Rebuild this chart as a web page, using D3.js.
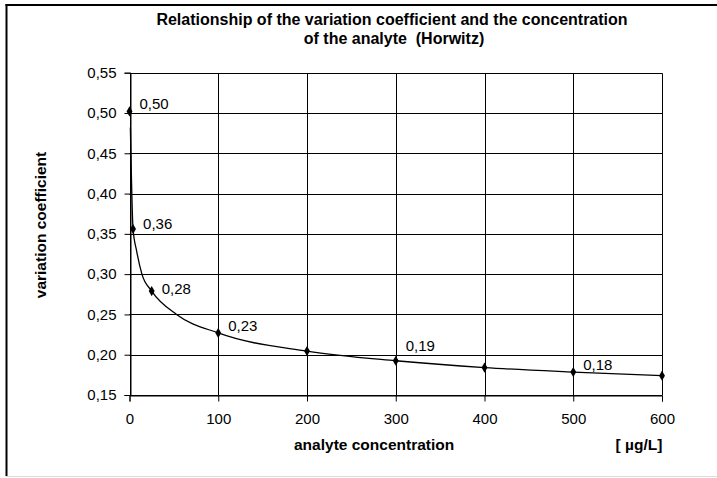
<!DOCTYPE html>
<html lang="en">
<head>
<meta charset="UTF-8">
<title>Horwitz</title>
<script src="https://cdn.jsdelivr.net/npm/d3@7"></script>
<style>
  body { margin: 0; background: #fff; }
  text { font-family: "Liberation Sans", Arial, sans-serif; }
</style>
</head>
<body>
<script>
// marker points
var concentration = [0, 4, 25, 100, 200, 300, 400, 500, 600];
var coefficient   = [0.502, 0.356, 0.279, 0.227, 0.2045, 0.1925, 0.184, 0.1785, 0.174];
var labelText     = ["0,50", "0,36", "0,28", "0,23", "", "0,19", "", "0,18", ""];
// smoothed curve
var curveConc = [1, 4, 8, 14, 25, 53, 100, 200, 300, 400, 500, 600];
var curveCv   = [0.482, 0.356, 0.329, 0.30, 0.279, 0.25, 0.227, 0.2045, 0.1925, 0.184, 0.1785, 0.174];
var xTicks = [0, 100, 200, 300, 400, 500, 600];
var yTicks = [0.15, 0.20, 0.25, 0.30, 0.35, 0.40, 0.45, 0.50, 0.55];

var W = 717, H = 478;
var plotL = 129.5, plotR = 662, plotT = 72.7, plotB = 395;
// per-label vertical nudges (px)
var labelDy = [-2, 0, 3, -2, 0, -10, 0, -2, 0];

var svg = d3.select("body").append("svg")
    .attr("width", W).attr("height", H);

// outer frame (cropped: left and top dark, bottom light)
svg.append("line").attr("x1", 6.5).attr("x2", 6.5).attr("y1", 4).attr("y2", 476)
    .attr("stroke", "#000").attr("stroke-width", 2);
svg.append("line").attr("x1", 5.5).attr("x2", W).attr("y1", 5).attr("y2", 5)
    .attr("stroke", "#000").attr("stroke-width", 2);
svg.append("line").attr("x1", 5.5).attr("x2", W).attr("y1", 476.5).attr("y2", 476.5)
    .attr("stroke", "#ddd").attr("stroke-width", 1);

var x = d3.scaleLinear().domain([0, 600]).range([plotL, plotR]);
var y = d3.scaleLinear().domain([0.15, 0.55]).range([plotB, plotT]);

var fmt = function (v) { return d3.format(".2f")(v).replace(".", ","); };
var snap = function (v) { return Math.round(v) + 0.5; };

// grid
svg.append("g").selectAll("line").data(yTicks).enter().append("line")
    .attr("x1", plotL).attr("x2", snap(plotR))
    .attr("y1", function (d) { return snap(y(d)); })
    .attr("y2", function (d) { return snap(y(d)); })
    .attr("stroke", "#000").attr("stroke-width", 1);
svg.append("g").selectAll("line").data(xTicks).enter().append("line")
    .attr("x1", function (d) { return snap(x(d)); })
    .attr("x2", function (d) { return snap(x(d)); })
    .attr("y1", snap(plotT)).attr("y2", plotB)
    .attr("stroke", "#000").attr("stroke-width", 1);

// axes
var yAxis = d3.axisLeft(y).tickValues(yTicks).tickFormat(fmt).tickSize(6).tickPadding(8);
var xAxis = d3.axisBottom(x).tickValues(xTicks).tickSize(6).tickPadding(12);

var gy = svg.append("g").attr("transform", "translate(" + snap(plotL) + ",0)").call(yAxis);
var gx = svg.append("g").attr("transform", "translate(0," + snap(plotB) + ")").call(xAxis);
[gy, gx].forEach(function (g) {
  g.select(".domain").attr("stroke", "#000");
  g.selectAll(".tick line").attr("stroke", "#000");
  g.selectAll("text").attr("font-size", "15px").attr("fill", "#000")
    .style("font-family", "'Liberation Sans', Arial, sans-serif");
});

// curve
var curvePts = curveConc.map(function (c, i) { return [c, curveCv[i]]; });
var line = d3.line()
    .x(function (d) { return x(d[0]); })
    .y(function (d) { return y(d[1]); })
    .curve(d3.curveMonotoneX);
svg.append("path").datum(curvePts).attr("d", line)
    .attr("fill", "none").attr("stroke", "#000").attr("stroke-width", 1.3);

// markers
var pts = concentration.map(function (c, i) { return [c, coefficient[i]]; });
svg.append("g").selectAll("path").data(pts).enter().append("path")
    .attr("d", d3.symbol().type(d3.symbolDiamond).size(30))
    .attr("transform", function (d) { return "translate(" + x(d[0]) + "," + y(d[1]) + ")"; })
    .attr("fill", "#000");

// value labels
svg.append("g").selectAll("text").data(pts).enter().append("text")
    .attr("x", function (d) { return x(d[0]) + 10; })
    .attr("y", function (d, i) { return y(d[1]) + labelDy[i]; })
    .attr("font-size", "15px")
    .text(function (d, i) { return labelText[i]; });

// titles
var title = svg.append("g").attr("font-weight", "bold").attr("font-size", "16px")
    .attr("text-anchor", "middle");
title.append("text").attr("x", 392).attr("y", 25)
    .text("Relationship of the variation coefficient and the concentration");
title.append("text").attr("x", 394).attr("y", 44)
    .attr("xml:space", "preserve").style("white-space", "pre")
    .text("of the analyte  (Horwitz)");

svg.append("text").attr("x", 294).attr("y", 450)
    .attr("font-size", "15.5px").attr("font-weight", "bold")
    .text("analyte concentration");
svg.append("text").attr("x", 639).attr("y", 450).attr("text-anchor", "middle")
    .attr("font-size", "15.5px").attr("font-weight", "bold")
    .text("[ µg/L]");
svg.append("text").attr("transform", "translate(46,225) rotate(-90)")
    .attr("text-anchor", "middle")
    .attr("font-size", "15.5px").attr("font-weight", "bold")
    .text("variation coefficient");
</script>
</body>
</html>
